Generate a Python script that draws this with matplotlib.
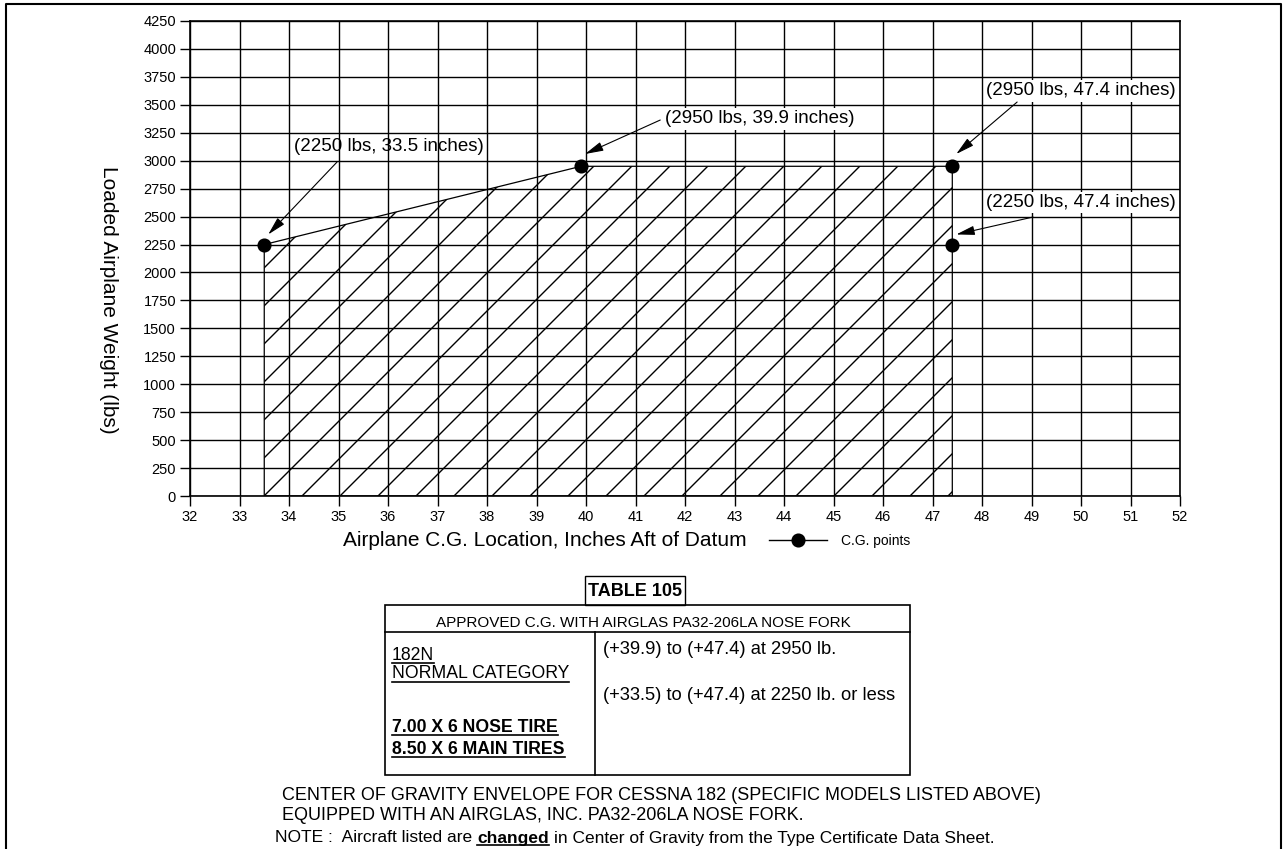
import numpy as np
import matplotlib.pyplot as plt
from matplotlib.lines import Line2D
from matplotlib.patches import Rectangle

plt.rcParams['font.family'] = ['Liberation Sans', 'DejaVu Sans']

# C.G. envelope corners (inches aft of datum, lbs)
env_x = [33.5, 33.5, 39.9, 47.4, 47.4]
env_y = [0, 2250, 2950, 2950, 0]

# C.G. points
cg_x = [33.5, 39.9, 47.4, 47.4]
cg_y = [2250, 2950, 2950, 2250]
cg_labels = ['(2250 lbs, 33.5 inches)', '(2950 lbs, 39.9 inches)',
             '(2950 lbs, 47.4 inches)', '(2250 lbs, 47.4 inches)']

x_ticks = list(range(32, 53))
y_ticks = list(range(0, 4251, 250))

# Table 105 contents
table_title = 'TABLE 105'
table_header = 'APPROVED C.G. WITH AIRGLAS PA32-206LA NOSE FORK'
left_col = ['182N', 'NORMAL CATEGORY', '7.00 X 6 NOSE TIRE', '8.50 X 6 MAIN TIRES']
left_bold = [False, False, True, True]
right_col = ['(+39.9) to (+47.4) at 2950 lb.', '(+33.5) to (+47.4) at 2250 lb. or less']

caption = ['CENTER OF GRAVITY ENVELOPE FOR CESSNA 182 (SPECIFIC MODELS LISTED ABOVE)',
           'EQUIPPED WITH AN AIRGLAS, INC. PA32-206LA NOSE FORK.']
note_parts = ['NOTE :  Aircraft listed are', 'changed',
              'in Center of Gravity from the Type Certificate Data Sheet.']

# the higher dpi only widens the hatch spacing; sizes are rescaled by k
W, H = 1285, 849
DPI = 114
k = 100 / DPI
plt.rcParams['hatch.linewidth'] = 1.0 * k
fig = plt.figure(figsize=(W / DPI, H / DPI), dpi=DPI)

# Main chart
ax = fig.add_axes([190 / W, 1 - 496 / H, 990 / W, 475 / H])
ax.set_xlim(32, 52)
ax.set_ylim(0, 4250)
ax.set_xticks(x_ticks)
ax.set_yticks(y_ticks)
ax.tick_params(direction='out', length=7 * k, width=1.0 * k, color='k',
               labelsize=10.5 * k, pad=3 * k)
ax.grid(True, color='k', lw=1.0 * k)
ax.set_axisbelow(True)
for s in ax.spines.values():
    s.set_linewidth(1.2 * k)

ax.fill(env_x, env_y, facecolor='none', edgecolor='k', hatch='/', lw=0.9 * k, zorder=2)
ax.plot(cg_x, cg_y, 'o', color='k', ms=9 * k, zorder=6)

# label placement: (text x, text y, ha, white box, arrow start x, arrow start y)
label_pos = [(34.1, 3125, 'left', False, 34.97, 2988),
             (41.6, 3375, 'left', True, 41.5, 3364),
             (50.0, 3625, 'center', True, 48.71, 3525),
             (50.0, 2625, 'center', True, 49.03, 2496)]
for (tx, ty, ha, boxed, sx, sy), lab, px, py in zip(label_pos, cg_labels, cg_x, cg_y):
    bbox = dict(boxstyle='square,pad=0.12', fc='white', ec='none') if boxed else None
    ax.text(tx, ty, lab, ha=ha, va='center', fontsize=13.5 * k, bbox=bbox, zorder=4)
    tip_x = px + 0.08
    tip_y = py + (110 if py > 2500 else 90)
    ax.annotate('', xy=(tip_x, tip_y), xytext=(sx, sy),
                arrowprops=dict(arrowstyle='-|>,head_length=0.8,head_width=0.2', color='k',
                                lw=0.8 * k, shrinkA=0, shrinkB=0, mutation_scale=14 * k),
                zorder=5)

ax.set_xlabel('Airplane C.G. Location, Inches Aft of Datum', fontsize=15 * k)
ax.xaxis.set_label_coords((545 - 190) / 990, (496 - 541) / 475)
ax.xaxis.label.set_va('center')
ax.set_ylabel('Loaded Airplane Weight (lbs)', fontsize=15 * k, rotation=270)
ax.yaxis.set_label_coords((108 - 190) / 990, (496 - 300) / 475)
ax.yaxis.label.set_va('center')

h = Line2D([], [], color='k', lw=1 * k, marker='o', ms=9 * k)
ax.legend([h], ['C.G. points'], loc='center left', bbox_to_anchor=(769 / W, 1 - 541 / H),
          bbox_transform=fig.transFigure, frameon=False, fontsize=10 * k, handlelength=4.2,
          handletextpad=1.0, borderpad=0, borderaxespad=0)

# Overlay in pixel coordinates for the page frame, table and notes
ov = fig.add_axes([0, 0, 1, 1])
ov.set_xlim(0, W)
ov.set_ylim(H, 0)
ov.axis('off')

ov.plot([6, 6, 1281, 1281], [H + 5, 4, 4, H + 5], color='k', lw=1.5 * k, clip_on=False)

ov.add_patch(Rectangle((585, 576), 100, 29, fill=False, lw=1.0 * k))
ov.text(635, 591, table_title, ha='center', va='center', fontsize=13 * k, weight='bold')
ov.add_patch(Rectangle((385, 605), 525, 170, fill=False, lw=1.2 * k))
ov.plot([385, 910], [632, 632], color='k', lw=1.2 * k)
ov.plot([595, 595], [632, 775], color='k', lw=1.2 * k)
ov.text(643, 623, table_header, ha='center', va='center', fontsize=11 * k)

left_y = [655, 674, 727, 749]
left_txt = []
for s, yy, b in zip(left_col, left_y, left_bold):
    left_txt.append(ov.text(392, yy, s, ha='left', va='center', fontsize=12.7 * k,
                            weight='bold' if b else 'normal'))
right_y = [649, 695]
for s, yy in zip(right_col, right_y):
    ov.text(603, yy, s, ha='left', va='center', fontsize=13.2 * k)

ov.text(282, 795, caption[0], ha='left', va='center', fontsize=13 * k)
ov.text(282, 815, caption[1], ha='left', va='center', fontsize=13 * k)

fig.canvas.draw()
renderer = fig.canvas.get_renderer()


def underline(t, lw=1.2):
    bb = t.get_window_extent(renderer)
    y = H - bb.y0 - 1
    ov.plot([bb.x0, bb.x1], [y, y], color='k', lw=lw * k)


for t in left_txt:
    underline(t)

# note line with the bold underlined word
x = 275
for i, s in enumerate(note_parts):
    t = ov.text(x, 838, s, ha='left', va='center', fontsize=12.5 * k,
                weight='bold' if i == 1 else 'normal')
    fig.canvas.draw()
    bb = t.get_window_extent(renderer)
    if i == 1:
        underline(t)
    x = bb.x1 + 5

fig.savefig('out.png', dpi=DPI)
